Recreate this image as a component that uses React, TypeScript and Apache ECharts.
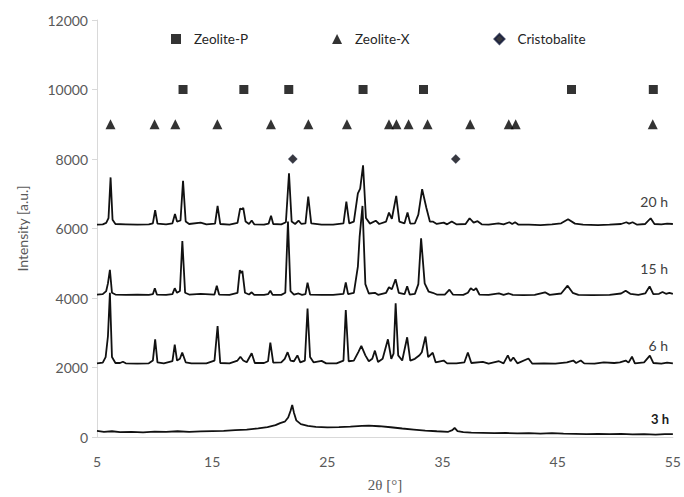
import React, { useEffect, useRef } from "react";
import * as echarts from "echarts";

const yTicks = [0, 2000, 4000, 6000, 8000, 10000, 12000];
const xTickLabels = [5, 15, 25, 35, 45, 55];

const zeoliteP = [12.47, 17.75, 21.65, 28.1, 33.35, 46.2, 53.3];
const zeolitePLevel = 10000;
const zeoliteX = [6.17, 10.0, 11.8, 15.45, 20.1, 23.35, 26.7, 30.35, 31.0, 32.05, 33.7, 37.4, 40.75, 41.35, 53.25];
const zeoliteXLevel = 9000;
const cristobalite = [22.0, 36.15];
const cristobaliteLevel = 8000;

const curve3h: [number, number][] = [
  [5.0, 175], [5.6, 150], [6.3, 165], [7.0, 140], [8.0, 150], [9.0, 135], [10.0, 155], [11.0, 145], [12.0, 165],
  [13.0, 150], [14.0, 160], [15.0, 170], [16.0, 175], [17.0, 200], [18.0, 215], [19.0, 250], [19.8, 285],
  [20.5, 340], [20.9, 400], [21.3, 440], [21.6, 560], [21.8, 750], [21.95, 920], [22.1, 700], [22.3, 480],
  [22.7, 370], [23.3, 320], [24.0, 290], [25.0, 275], [26.0, 285], [27.0, 300], [28.0, 320], [28.6, 330],
  [29.5, 310], [30.5, 280], [31.5, 245], [32.5, 215], [33.5, 185], [34.5, 165], [35.5, 150], [35.85, 200],
  [36.05, 260], [36.3, 170], [36.8, 140], [37.5, 125], [38.5, 120], [39.5, 110], [40.5, 115], [41.5, 105],
  [42.5, 110], [43.5, 100], [44.5, 110], [45.5, 95], [46.5, 90], [47.5, 85], [48.5, 90], [49.5, 80],
  [50.5, 90], [51.5, 75], [52.5, 85], [53.5, 70], [54.3, 85], [55.0, 80],
];

const curve6h: [number, number][] = [
  [5.0, 2120], [5.5, 2140], [5.75, 2300], [5.95, 2900], [6.12, 4150], [6.3, 2300], [6.6, 2130], [7.0, 2130],
  [7.25, 2165], [7.5, 2120], [8.5, 2110], [9.5, 2120], [9.85, 2200], [10.05, 2810], [10.25, 2150], [10.8, 2120],
  [11.55, 2180], [11.75, 2660], [11.95, 2200], [12.2, 2250], [12.4, 2430], [12.7, 2150], [13.2, 2120],
  [14.5, 2120], [15.2, 2200], [15.47, 3195], [15.7, 2130], [16.5, 2120], [17.2, 2200], [17.45, 2310],
  [17.7, 2200], [18.0, 2150], [18.43, 2410], [18.7, 2130], [19.5, 2130], [19.85, 2180], [20.05, 2715],
  [20.3, 2140], [21.0, 2150], [21.3, 2250], [21.55, 2440], [21.8, 2200], [22.1, 2180], [22.4, 2350],
  [22.65, 2150], [23.05, 2200], [23.28, 3700], [23.5, 2300], [23.8, 2150], [24.5, 2190], [24.9, 2120],
  [25.8, 2120], [26.4, 2200], [26.6, 3655], [26.85, 2180], [27.3, 2200], [27.7, 2450], [27.95, 2620],
  [28.3, 2350], [28.6, 2180], [28.9, 2250], [29.13, 2485], [29.4, 2160], [29.8, 2250], [30.26, 2810],
  [30.55, 2250], [30.75, 2400], [30.93, 3850], [31.15, 2350], [31.5, 2200], [31.93, 2870], [32.2, 2200],
  [32.6, 2250], [33.0, 2350], [33.2, 2440], [33.52, 2890], [33.75, 2300], [34.15, 2425], [34.4, 2150],
  [35.1, 2200], [35.4, 2120], [36.2, 2120], [36.9, 2150], [37.2, 2430], [37.5, 2130], [38.5, 2160],
  [39.0, 2110], [39.9, 2180], [40.3, 2120], [40.67, 2350], [40.9, 2180], [41.15, 2290], [41.5, 2120],
  [42.46, 2260], [42.8, 2110], [43.8, 2120], [44.8, 2110], [45.8, 2150], [46.35, 2200], [46.6, 2130],
  [47.0, 2200], [47.3, 2120], [48.2, 2110], [49.0, 2150], [49.9, 2130], [50.4, 2150], [50.9, 2200],
  [51.15, 2140], [51.45, 2310], [51.7, 2120], [52.5, 2150], [53.0, 2340], [53.3, 2130], [54.0, 2110],
  [54.5, 2140], [55.0, 2120],
];

const curve15h: [number, number][] = [
  [5.0, 4100], [5.5, 4110], [5.8, 4200], [5.95, 4420], [6.12, 4810], [6.3, 4150], [6.6, 4100], [7.5, 4090],
  [8.5, 4100], [9.5, 4090], [9.85, 4110], [10.02, 4280], [10.2, 4100], [11.0, 4090], [11.55, 4110],
  [11.75, 4280], [11.95, 4150], [12.2, 4200], [12.41, 5640], [12.65, 4150], [13.0, 4100], [14.0, 4120],
  [15.2, 4100], [15.4, 4355], [15.6, 4100], [16.5, 4090], [17.2, 4150], [17.4, 4800], [17.5, 4720],
  [17.62, 4780], [17.85, 4150], [18.2, 4100], [18.43, 4165], [18.65, 4090], [19.5, 4090], [19.85, 4110],
  [20.05, 4210], [20.25, 4090], [21.0, 4090], [21.35, 4150], [21.58, 6200], [21.8, 4200], [22.1, 4100],
  [22.5, 4130], [22.8, 4090], [23.1, 4110], [23.28, 4440], [23.5, 4100], [24.5, 4090], [25.5, 4090],
  [26.4, 4120], [26.6, 4450], [26.8, 4110], [27.3, 4150], [27.65, 4900], [27.8, 5750], [28.05, 6650],
  [28.3, 4400], [28.6, 4130], [29.13, 4150], [29.4, 4090], [30.1, 4150], [30.35, 4310], [30.6, 4250],
  [30.92, 4540], [31.2, 4150], [31.7, 4110], [31.93, 4335], [32.15, 4100], [32.6, 4120], [32.9, 4400],
  [33.14, 5720], [33.45, 4420], [33.8, 4180], [34.15, 4150], [34.5, 4100], [35.2, 4100], [35.6, 4240],
  [35.9, 4100], [36.8, 4090], [37.2, 4150], [37.45, 4280], [37.7, 4220], [37.92, 4280], [38.2, 4100],
  [39.0, 4090], [39.9, 4130], [40.3, 4090], [40.75, 4130], [41.1, 4090], [42.0, 4080], [43.0, 4090],
  [43.9, 4165], [44.3, 4090], [45.3, 4130], [45.86, 4355], [46.3, 4150], [46.8, 4090], [48.0, 4080],
  [49.5, 4090], [50.5, 4130], [50.9, 4210], [51.3, 4120], [52.0, 4090], [52.6, 4130], [52.98, 4335],
  [53.3, 4110], [53.8, 4120], [54.1, 4175], [54.4, 4120], [54.7, 4150], [55.0, 4120],
];

const curve20h: [number, number][] = [
  [5.0, 6110], [5.5, 6120], [5.8, 6160], [6.0, 6300], [6.18, 7470], [6.35, 6250], [6.6, 6130], [7.5, 6120],
  [8.5, 6110], [9.5, 6120], [9.85, 6150], [10.05, 6530], [10.25, 6140], [11.0, 6120], [11.55, 6150],
  [11.77, 6420], [11.95, 6200], [12.25, 6230], [12.47, 7370], [12.7, 6200], [13.0, 6130], [14.0, 6170],
  [14.5, 6120], [15.25, 6140], [15.47, 6650], [15.7, 6130], [16.5, 6110], [17.2, 6160], [17.43, 6580],
  [17.55, 6550], [17.7, 6590], [17.9, 6200], [18.2, 6130], [18.43, 6230], [18.65, 6120], [19.5, 6110],
  [19.9, 6140], [20.11, 6370], [20.3, 6130], [21.0, 6120], [21.4, 6180], [21.67, 7590], [21.9, 6200],
  [22.2, 6130], [22.5, 6225], [22.75, 6130], [23.1, 6150], [23.34, 6920], [23.6, 6150], [24.5, 6110],
  [25.5, 6110], [26.4, 6150], [26.65, 6770], [26.9, 6150], [27.3, 6200], [27.65, 7010], [27.85, 7150],
  [28.1, 7820], [28.35, 6300], [28.7, 6140], [29.2, 6225], [29.5, 6130], [30.1, 6200], [30.35, 6460],
  [30.6, 6280], [30.98, 6940], [31.25, 6200], [31.7, 6150], [31.96, 6460], [32.2, 6140], [32.6, 6150],
  [32.9, 6400], [33.23, 7130], [33.6, 6590], [33.9, 6200], [34.15, 6200], [34.5, 6130], [35.1, 6170],
  [35.4, 6120], [35.8, 6200], [36.2, 6120], [37.0, 6130], [37.35, 6295], [37.7, 6170], [38.04, 6210],
  [38.4, 6120], [39.0, 6110], [39.86, 6150], [40.3, 6120], [40.8, 6180], [41.05, 6130], [41.3, 6180],
  [41.6, 6110], [42.5, 6110], [43.5, 6100], [44.5, 6120], [45.3, 6150], [45.9, 6265], [46.5, 6140],
  [47.2, 6110], [48.5, 6100], [49.5, 6110], [50.5, 6130], [50.96, 6180], [51.2, 6140], [51.5, 6180],
  [51.9, 6110], [52.6, 6130], [53.07, 6295], [53.4, 6130], [54.0, 6120], [54.5, 6140], [55.0, 6130],
];

const curveLabels = ["3 h", "6 h", "15 h", "20 h"];

const FONT = "Lato, 'Open Sans', sans-serif";

export default function App() {
  const ref = useRef<HTMLDivElement>(null);
  useEffect(() => {
    document.body.style.margin = "0";
    document.body.style.overflow = "hidden";
    if (!ref.current) return;
    const chart = echarts.init(ref.current, undefined, { renderer: "svg" });
    const lineStyle = { color: "#111111", width: 1.8 };
    const mkLine = (name: string, data: [number, number][]) => ({
      name,
      type: "line",
      data,
      showSymbol: false,
      symbol: "none",
      lineStyle,
      z: 2,
    });
    const labelPos: [number, number][] = [
      [669, 421],
      [668, 347],
      [668, 270],
      [668, 203],
    ];
    chart.setOption({
      animation: false,
      backgroundColor: "#ffffff",
      grid: { left: 97, right: 9, top: 20, bottom: 60 },
      legend: {
        data: [
          { name: "Zeolite-P", icon: "rect" },
          { name: "Zeolite-X", icon: "triangle" },
          { name: "Cristobalite", icon: "diamond" },
        ],
        left: 166,
        top: 27,
        itemWidth: 10,
        itemHeight: 10,
        itemGap: 84,
        textStyle: { fontFamily: FONT, fontSize: 13.5, color: "#262626", padding: [0, 0, 0, 8] },
      },
      xAxis: {
        type: "value",
        min: 5,
        max: 55,
        interval: 5,
        name: "2θ [°]",
        nameLocation: "middle",
        nameGap: 40,
        nameTextStyle: { fontFamily: "'Liberation Serif', serif", fontSize: 15, color: "#595959" },
        axisLine: { lineStyle: { color: "#d9d9d9", width: 1 } },
        axisTick: { show: false },
        splitLine: { show: false },
        axisLabel: {
          fontFamily: FONT,
          fontSize: 14,
          color: "#595959",
          margin: 17,
          formatter: (v: number) => (xTickLabels.includes(v) ? String(v) : ""),
        },
      },
      yAxis: {
        type: "value",
        min: yTicks[0],
        max: yTicks[yTicks.length - 1],
        interval: 2000,
        name: "Intensity [a.u.]",
        nameLocation: "middle",
        nameGap: 68,
        nameTextStyle: { fontFamily: FONT, fontSize: 14, color: "#595959" },
        axisLine: { show: true, lineStyle: { color: "#d9d9d9", width: 1 } },
        axisTick: { show: true, length: 5, lineStyle: { color: "#d9d9d9" } },
        splitLine: { show: false },
        axisLabel: {
          fontFamily: FONT,
          fontSize: 14,
          color: "#595959",
          margin: 9,
          formatter: (v: number) => String(v),
        },
      },
      series: [
        mkLine("3 h", curve3h),
        mkLine("6 h", curve6h),
        mkLine("15 h", curve15h),
        mkLine("20 h", curve20h),
        {
          name: "Zeolite-P",
          type: "scatter",
          symbol: "rect",
          symbolSize: 9,
          itemStyle: { color: "#000000" },
          data: zeoliteP.map((x) => [x, zeolitePLevel]),
          z: 3,
        },
        {
          name: "Zeolite-X",
          type: "scatter",
          symbol: "triangle",
          symbolSize: 10,
          itemStyle: { color: "#000000" },
          data: zeoliteX.map((x) => [x, zeoliteXLevel]),
          z: 3,
        },
        {
          name: "Cristobalite",
          type: "scatter",
          symbol: "diamond",
          symbolSize: 9,
          itemStyle: { color: "#06060f", borderColor: "#101838", borderWidth: 0.5 },
          data: cristobalite.map((x) => [x, cristobaliteLevel]),
          z: 3,
        },
      ],
      graphic: curveLabels.map((t, i) => ({
        type: "text",
        right: 684 - labelPos[i][0],
        top: labelPos[i][1] - 9,
        style: {
          text: t,
          fontFamily: FONT,
          fontSize: i === 0 ? 13 : 14,
          fill: i === 0 ? "#1a1a1a" : "#404040",
          fontWeight: i === 0 ? "bold" : "normal",
        },
      })),
    });
    return () => chart.dispose();
  }, []);
  return <div ref={ref} style={{ width: 684, height: 497 }} />;
}
